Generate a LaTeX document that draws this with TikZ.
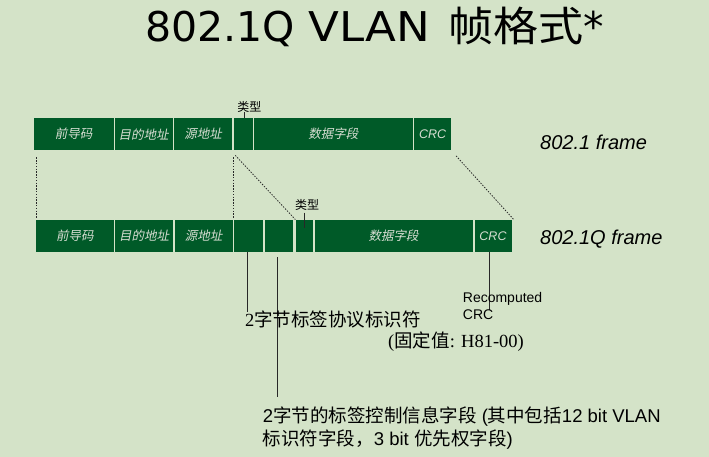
\documentclass[tikz,border=0pt]{standalone}
\usepackage{fontspec}
\usetikzlibrary{calc}
\setmainfont{Liberation Sans}
\newfontfamily\cjk{Noto Sans CJK SC}
\newfontfamily\cjkwide[FakeStretch=1.1]{Noto Sans CJK SC}
\newfontfamily\cjkit[FakeSlant=0.2]{Noto Sans CJK SC}
\newfontfamily\dv{DejaVu Sans}
\newfontfamily\dvwide[FakeStretch=1.1]{DejaVu Sans}
\newfontfamily\lserif{Liberation Serif}
\newcommand{\Cj}[1]{{\cjk #1}}
\definecolor{bgc}{RGB}{212,227,200}
\definecolor{boxc}{RGB}{0,90,40}
\definecolor{boxtxt}{RGB}{215,222,210}
\definecolor{linec}{RGB}{40,40,40}
\tikzset{
  fbox/.style={fill=boxc, draw=none, inner sep=0pt, anchor=north west, text=boxtxt,
    font=\cjkit\fontsize{12.5}{12.5}\selectfont},
  crcbox/.style={fbox, font=\itshape\fontsize{12.5}{12.5}\selectfont},
  dotline/.style={draw=linec, line width=0.8pt, dash pattern=on 1.4pt off 1.4pt},
  annot/.style={draw=linec, line width=0.8pt},
  typelab/.style={inner sep=0pt, font=\cjk\fontsize{12}{12}\selectfont, text=black},
  framelab/.style={inner sep=0pt, anchor=base west, font=\itshape\fontsize{20}{20}\selectfont},
  txt/.style={inner sep=0pt, anchor=base west, font=\fontsize{18.5}{22.3}\selectfont, align=left}
}
\begin{document}
\begin{tikzpicture}[x=1pt,y=-1pt]
\fill[bgc] (0,0) rectangle (709,457);
\useasboundingbox (0,0) rectangle (709,457);

% title
\node[inner sep=0pt, anchor=base west] (title) at (145,41.7)
  {\dv\fontsize{41}{41}\selectfont 802.1Q\hspace{14pt}{\dvwide VLAN}\hspace{18pt}{\cjkwide\fontsize{41}{41}\selectfont 帧格式}*};

% top frame
\node[fbox, minimum width=79.8pt, minimum height=32pt] (t1) at (33.5,118) {前导码};
\node[fbox, minimum width=57.6pt, minimum height=32pt] (t2) at (114.7,118) {目的地址};
\node[fbox, minimum width=57.7pt, minimum height=32pt] (t3) at (174,118) {源地址};
\node[fbox, minimum width=19pt, minimum height=32pt] (t4) at (233.3,118) {};
\node[fbox, minimum width=158.3pt, minimum height=32pt] (t5) at (254,118) {数据字段};
\node[crcbox, minimum width=36.7pt, minimum height=32pt] (t6) at (414,118) {CRC};

% bottom frame
\node[fbox, minimum width=78pt, minimum height=32.5pt] (b1) at (35.7,219.5) {前导码};
\node[fbox, minimum width=58pt, minimum height=32.5pt] (b2) at (115,219.5) {目的地址};
\node[fbox, minimum width=58pt, minimum height=32.5pt] (b3) at (174.3,219.5) {源地址};
\node[fbox, minimum width=28.6pt, minimum height=32.5pt] (b4) at (233.7,219.5) {};
\node[fbox, minimum width=28.4pt, minimum height=32.5pt] (b5) at (264.3,219.5) {};
\node[fbox, minimum width=17.4pt, minimum height=32.5pt] (b6) at (295.3,219.5) {};
\node[fbox, minimum width=158pt, minimum height=32.5pt] (b7) at (314.3,219.5) {数据字段};
\node[crcbox, minimum width=37pt, minimum height=32.5pt] (b8) at (474.3,219.5) {CRC};

% type labels
\node[typelab] (ty1) at (249.3,106.5) {类型};
\node[typelab] (ty2) at (307,205) {类型};
\draw[annot] ($(t4.north)+(1.5,0)$) -- ($(t4.north)+(1.5,-6)$);
\draw[annot] ($(b6.north)+(0,-7)$) -- ($(b6.north)+(0,8)$);

% frame labels
\node[framelab] (f1) at (540,149.3) {802.1 frame};
\node[framelab] (f2) at (540,244) {802.1Q frame};

% dotted connectors
\draw[dotline] ($(b1.north west |- t1.south)+(0.5,7)$) -- ($(b1.north west)+(0.5,-1)$);
\draw[dotline] ($(b4.north west |- t1.south)+(-0.5,7)$) -- ($(b4.north west)+(-0.5,-1)$);
\draw[dotline] ($(t4.south west)+(2,5)$) -- (b6.north west);
\draw[dotline] ($(t6.south east)+(5,5.5)$) -- ($(b8.north east)+(2,0)$);

% annotations
\coordinate (e1) at ($(b4.south)+(-0.7,59.7)$);
\coordinate (s2) at ($(b5.south)+(-1.2,5)$);
\coordinate (e2) at ($(b5.south)+(-1.2,144.7)$);
\coordinate (e3) at ($(b8.south)+(-4.1,58)$);
\draw[annot] ($(b4.south)+(-0.7,0)$) -- (e1);
\draw[annot] (s2) -- (e2);
\draw[annot] ($(b8.south)+(-4.1,0)$) -- (e3);

\node[inner sep=0pt, anchor=base west, align=left, font=\fontsize{14}{16.3}\selectfont] (rc) at (462.7,319) {Recomputed\\CRC};

\node[txt] (tpid) at (245,326) {{\lserif 2}\Cj{字节标签协议标识符}};
\node[txt] (fix) at (388,347.7) {{\lserif (}\Cj{固定值}{\lserif : H81-00)}};
\node[txt] (tci) at (262.7,445) {2\Cj{字节的标签控制信息字段} (\Cj{其中包括}12 bit VLAN\\\Cj{标识符字段，}3 bit \Cj{优先权字段})};
\end{tikzpicture}
\end{document}
